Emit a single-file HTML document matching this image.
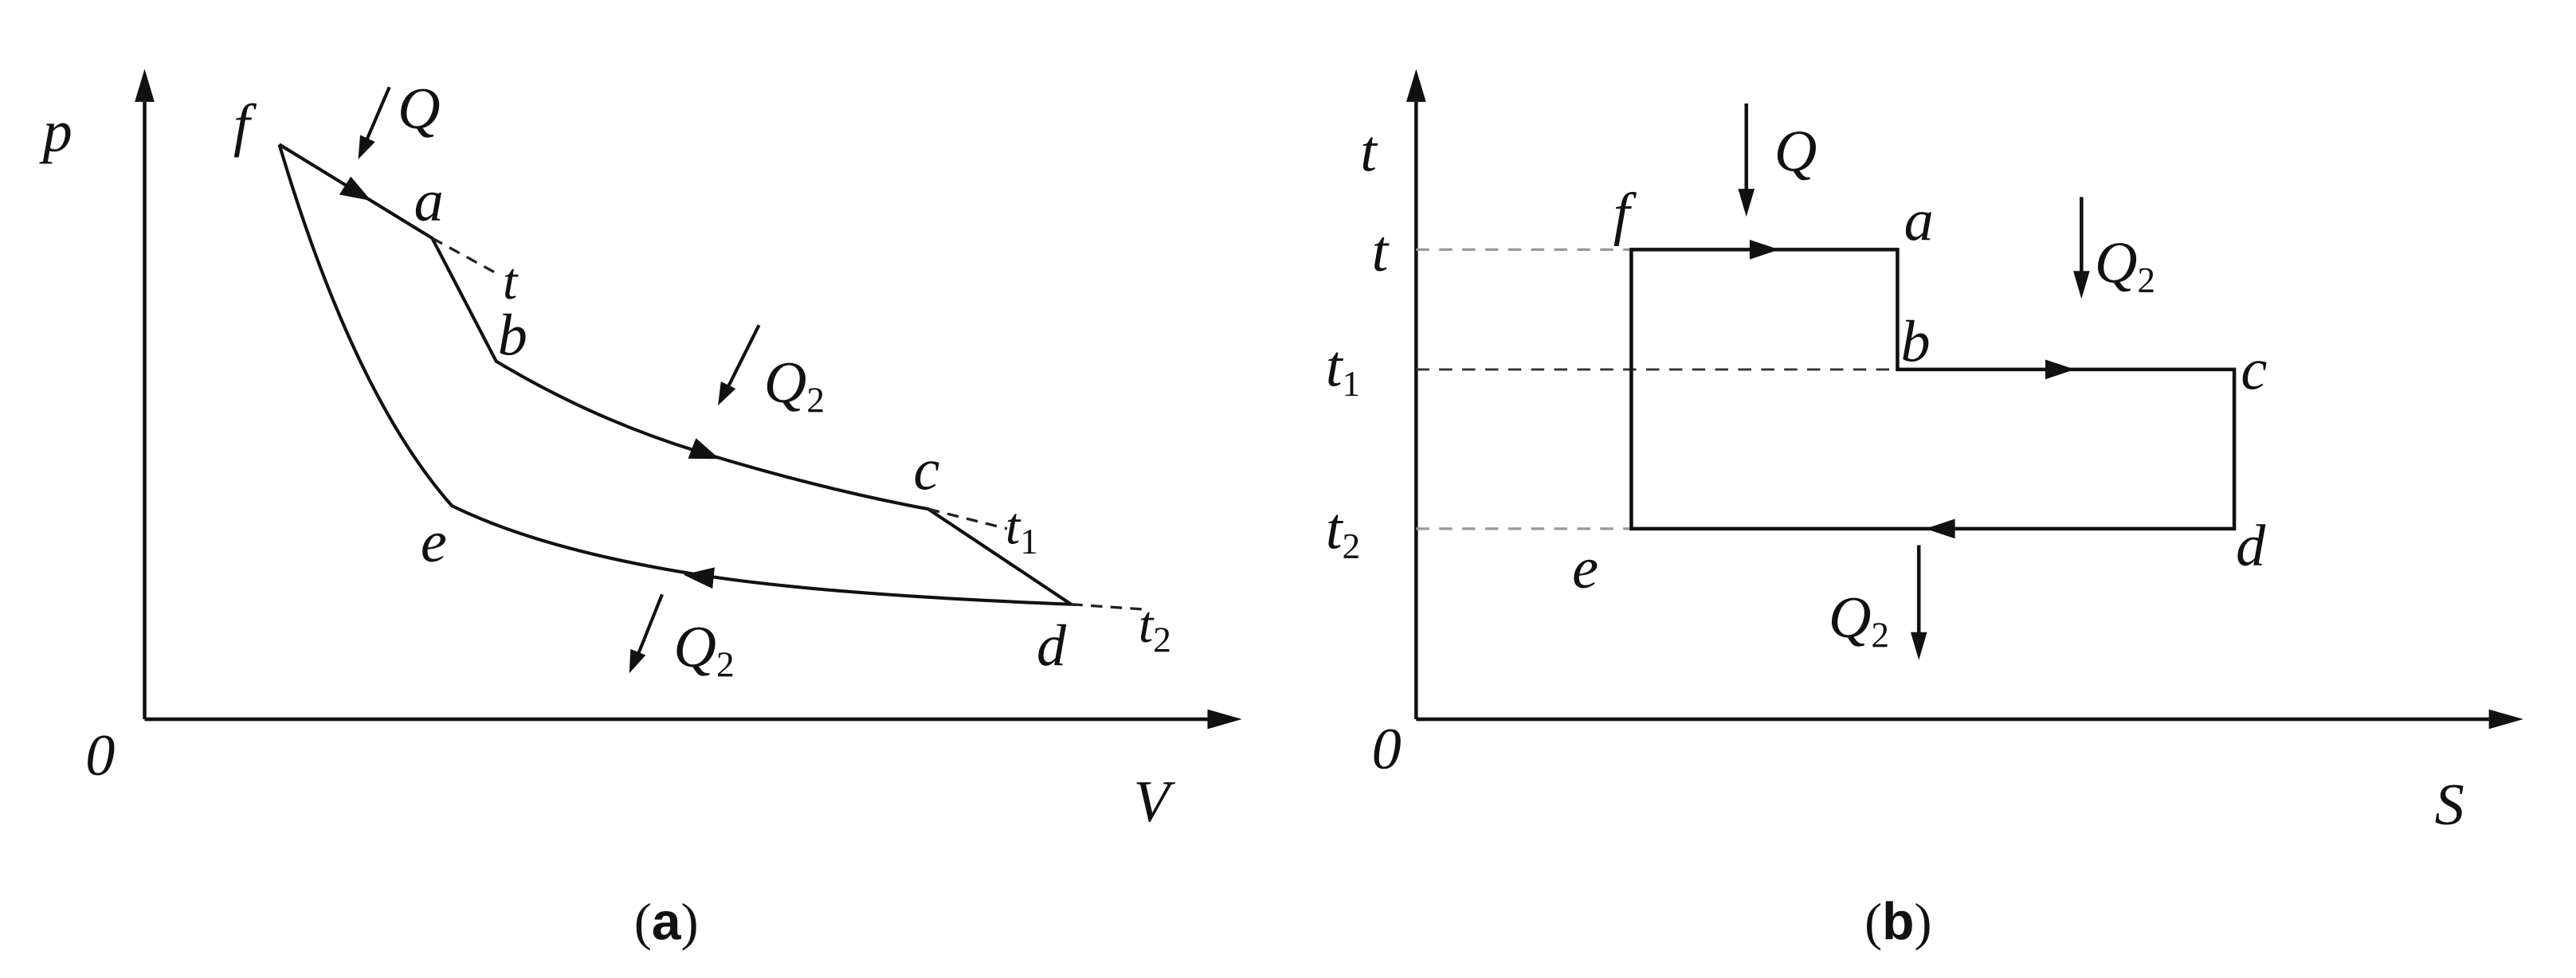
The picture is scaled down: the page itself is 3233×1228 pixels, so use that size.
<!DOCTYPE html>
<html><head><meta charset="utf-8"><style>
html,body{margin:0;padding:0;background:#fff;}
svg{display:block;}
text{font-family:"Liberation Serif",serif;font-style:italic;fill:#111;}
tspan.s{font-style:normal;}
text.cap{font-style:normal;}
</style></head><body>
<svg width="3233" height="1228" viewBox="0 0 1568 595.6" xmlns="http://www.w3.org/2000/svg">
<g stroke="#111" stroke-width="2.2" fill="none">
<line x1="88" y1="438" x2="88" y2="62"/>
<line x1="88" y1="438" x2="735" y2="438"/>
</g>
<path d="M82,62 L88,42 L94,62 z" fill="#111"/>
<path d="M735,432 L756,438 L735,444 z" fill="#111"/>
<g stroke="#111" stroke-width="2" fill="none">
<path d="M170,88 L263,145 L302,220 Q360,255 425,275 Q500,298 565,310 L652,368 Q500,362 425,350 Q330,335 275,308 Q215,240 170,88"/>
<line x1="237" y1="53" x2="222" y2="88"/>
<line x1="462" y1="198" x2="442" y2="238"/>
<line x1="403" y1="362" x2="387" y2="402"/>
</g>
<path d="M218,97 L228.3,86.4 L219.2,82.2 z" fill="#111"/>
<path d="M437,247 L447.8,236.7 L438.8,232.3 z" fill="#111"/>
<path d="M383,410 L393,399 L383.8,395.2 z" fill="#111"/>
<path d="M226,122.3 L206.5,118.5 L213.5,107.5 z" fill="#111"/>
<path d="M438,279.5 L418.8,279.3 L423.6,266.8 z" fill="#111"/>
<path d="M416,350 L435,345.5 L433.7,358.5 z" fill="#111"/>
<g stroke="#222" stroke-width="1.6" stroke-dasharray="7,5" fill="none">
<line x1="263" y1="145" x2="305" y2="168"/>
<line x1="565" y1="310" x2="613" y2="322"/>
<line x1="652" y1="368" x2="695" y2="371"/>
</g>
<g font-size="36">
<text x="26" y="92">p</text>
<text x="142" y="88">f</text>
<text x="242" y="78">Q</text>
<text x="252" y="134">a</text>
<text x="306" y="182" font-size="32">t</text>
<text x="303" y="216">b</text>
<text x="465" y="245">Q<tspan class="s" font-size="22" dy="6">2</tspan></text>
<text x="556" y="298">c</text>
<text x="612" y="331" font-size="32">t<tspan class="s" font-size="22" dy="6">1</tspan></text>
<text x="256" y="342">e</text>
<text x="631" y="405">d</text>
<text x="693" y="391" font-size="32">t<tspan class="s" font-size="22" dy="6">2</tspan></text>
<text x="410" y="406">Q<tspan class="s" font-size="22" dy="6">2</tspan></text>
<text x="52" y="472">0</text>
<text x="690" y="500">V</text>
</g>
<text class="cap" x="386" y="572" font-size="32">(<tspan font-family="Liberation Sans" font-weight="bold">a</tspan>)</text>

<g stroke="#111" stroke-width="2.2" fill="none">
<line x1="862" y1="438" x2="862" y2="62"/>
<line x1="862" y1="438" x2="1515" y2="438"/>
</g>
<path d="M856,62 L862,42 L868,62 z" fill="#111"/>
<path d="M1515,432 L1536,438 L1515,444 z" fill="#111"/>
<g stroke="#999" stroke-width="1.6" stroke-dasharray="8,6">
<line x1="862" y1="152" x2="993" y2="152"/>
<line x1="862" y1="322" x2="993" y2="322"/>
</g>
<line x1="862" y1="225" x2="1155" y2="225" stroke="#333" stroke-width="1.4" stroke-dasharray="8,6"/>
<g stroke="#111" stroke-width="2.2" fill="none">
<path d="M993,322 L993,152 L1155,152 L1155,225 L1360,225 L1360,322 Z"/>
<line x1="1063" y1="63" x2="1063" y2="118"/>
<line x1="1267" y1="120" x2="1267" y2="168"/>
<line x1="1168" y1="332" x2="1168" y2="388"/>
</g>
<path d="M1058,115 L1063,132 L1068,115 z" fill="#111"/>
<path d="M1262,165 L1267,182 L1272,165 z" fill="#111"/>
<path d="M1163,385 L1168,402 L1173,385 z" fill="#111"/>
<path d="M1065,146 L1083,152 L1065,158 z" fill="#111"/>
<path d="M1245,219 L1263,225 L1245,231 z" fill="#111"/>
<path d="M1190,316 L1172,322 L1190,328 z" fill="#111"/>
<g font-size="36">
<text x="828" y="104">t</text>
<text x="835" y="165">t</text>
<text x="807" y="235">t<tspan class="s" font-size="22" dy="6">1</tspan></text>
<text x="807" y="334">t<tspan class="s" font-size="22" dy="6">2</tspan></text>
<text x="982" y="142">f</text>
<text x="1159" y="146">a</text>
<text x="1157" y="220">b</text>
<text x="1364" y="237">c</text>
<text x="1361" y="344">d</text>
<text x="957" y="358">e</text>
<text x="1080" y="104">Q</text>
<text x="1275" y="172">Q<tspan class="s" font-size="22" dy="6">2</tspan></text>
<text x="1113" y="388">Q<tspan class="s" font-size="22" dy="6">2</tspan></text>
<text x="835" y="468">0</text>
<text x="1482" y="502">S</text>
</g>
<text class="cap" x="1135" y="572" font-size="32">(<tspan font-family="Liberation Sans" font-weight="bold">b</tspan>)</text>
</svg>
</body></html>
